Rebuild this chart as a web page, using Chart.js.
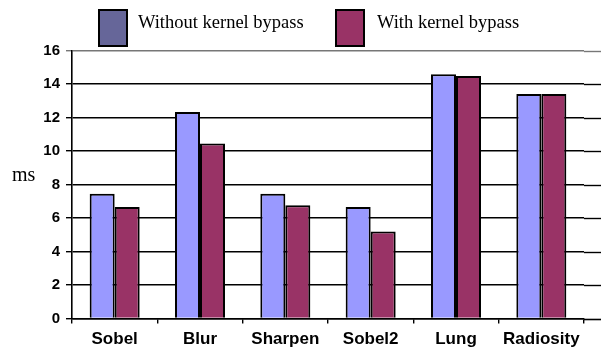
<!DOCTYPE html>
<html>
<head>
<meta charset="utf-8">
<script src="https://cdn.jsdelivr.net/npm/chart.js@4.4.1/dist/chart.umd.min.js"></script>
<style>
  html, body { margin: 0; padding: 0; background: #fff; }
  #chart { display: block; }
</style>
</head>
<body>
<canvas id="chart" width="601" height="356"></canvas>
<script>
// --- Data ---
const categories = ["Sobel", "Blur", "Sharpen", "Sobel2", "Lung", "Radiosity"];
const seriesNames = ["Without kernel bypass", "With kernel bypass"];
const withoutBypass = [7.45, 12.33, 7.45, 6.65, 14.58, 13.41];
const withBypass = [6.65, 10.45, 6.76, 5.2, 14.48, 13.41];
const yTicks = [0, 2, 4, 6, 8, 10, 12, 14, 16];
const yLabel = "ms";

// --- Plugins ---
// gridlines in the original run on to the right edge of the picture
const extendGrid = {
    id: "extendGrid",
    beforeDatasetsDraw(chart){
        const ctx = chart.ctx;
        const y = chart.scales.y;
        const area = chart.chartArea;
        ctx.save();
        y.ticks.forEach(t => {
            const py = Math.round(y.getPixelForValue(t.value)) + 0.5;
            ctx.strokeStyle = t.value === 16 ? "#777" : "#000";
            ctx.lineWidth = t.value === 0 ? 1.6 : 1.4;
            ctx.beginPath();
            ctx.moveTo(area.right, py);
            ctx.lineTo(chart.width, py);
            ctx.stroke();
        });
        ctx.restore();
    }
};

// legend boxes with a tall box, and the horizontal "ms" label
const boxLegend = {
    id: "boxLegend",
    afterDraw(chart){
        const ctx = chart.ctx;
        const spots = [{box: 99, text: 138}, {box: 336, text: 377}];
        ctx.save();
        chart.data.datasets.forEach((ds, i) => {
            ctx.fillStyle = ds.legendColor;
            ctx.fillRect(spots[i].box, 10, 28, 36);
            ctx.strokeStyle = "#000";
            ctx.lineWidth = 2;
            ctx.strokeRect(spots[i].box, 10, 28, 36);
            ctx.fillStyle = "#000";
            ctx.font = "18.5px 'Liberation Serif'";
            ctx.textBaseline = "alphabetic";
            ctx.fillText(ds.label, spots[i].text, 28);
        });
        ctx.font = "20px 'Liberation Serif'";
        ctx.fillText(yLabel, 12, 181);
        ctx.restore();
    }
};

// --- Chart ---
new Chart(document.getElementById("chart"), {
    type: "bar",
    data: {
        labels: categories,
        datasets: [
            {label: seriesNames[0], data: withoutBypass, backgroundColor: "#9999ff", legendColor: "#666699",
             borderColor: "#000", borderWidth: 2},
            {label: seriesNames[1], data: withBypass, backgroundColor: "#993366", legendColor: "#993366",
             borderColor: "#000", borderWidth: 2}
        ]
    },
    options: {
        responsive: false,
        animation: false,
        layout: {padding: {left: 0, right: 17, top: 50.5, bottom: 0}},
        datasets: {bar: {categoryPercentage: 0.586, barPercentage: 1}},
        plugins: {legend: {display: false}, tooltip: {enabled: false}},
        scales: {
            x: {
                grid: {drawOnChartArea: false, offset: true, color: "#000", lineWidth: 1.4, tickLength: 5},
                border: {color: "#000", width: 1.6},
                ticks: {color: "#000", padding: 6, font: {family: "'Liberation Sans'", weight: "bold", size: 17}},
                afterFit(scale){ scale.height = 37.5; }
            },
            y: {
                min: 0, max: 16,
                afterBuildTicks(scale){ scale.ticks = yTicks.map(v => ({value: v})); },
                grid: {color: ctx => ctx.tick && ctx.tick.value === 16 ? "#777" : "#000", lineWidth: 1.4, tickLength: 6},
                border: {color: "#000", width: 1.6},
                ticks: {color: "#000", padding: 6, font: {family: "'Liberation Sans'", weight: "bold", size: 15}},
                afterFit(scale){ scale.width = 72; }
            }
        }
    },
    plugins: [extendGrid, boxLegend]
});
</script>
</body>
</html>
